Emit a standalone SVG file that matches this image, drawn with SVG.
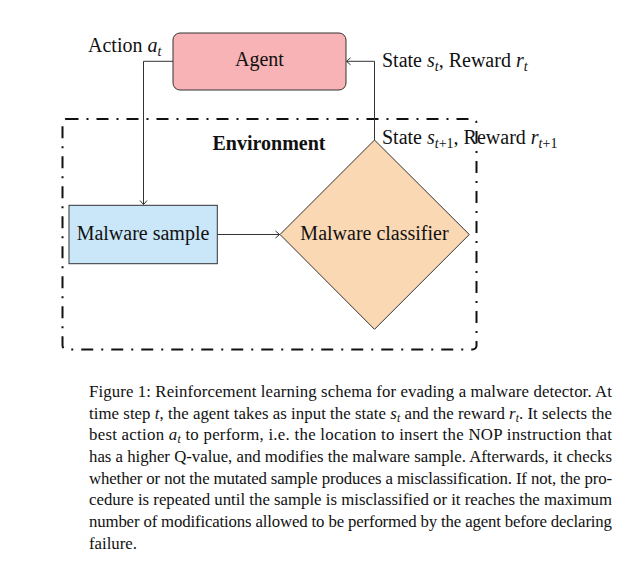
<svg xmlns="http://www.w3.org/2000/svg" width="641" height="564" viewBox="0 0 641 564">
<style>
  text { font-family: "Liberation Serif", "Times New Roman", serif; fill: #111; }
  .lbl { font-size: 20px; }
  .cap { font-size: 16.8px; }
  .it { font-style: italic; }
  .conn { fill: none; stroke: #333; stroke-width: 1; }
  .env { fill: none; stroke: #111; stroke-width: 2; stroke-dasharray: 12 8 2 8; }
  .node { stroke: #333; stroke-width: 1; }
</style>
<defs>
  <marker id="arr" markerUnits="userSpaceOnUse" markerWidth="12" markerHeight="12" viewBox="-6 -6 12 12" refX="0" refY="0" orient="auto">
    <path d="M-4,-3.5 Q-1,-1 0,0 Q-1,1 -4,3.5" fill="none" stroke="#333" stroke-width="1"/>
  </marker>
</defs>
<rect width="641" height="564" fill="#fff"/>

<g id="environment">
  <rect class="env" x="62.5" y="119" width="414" height="230.5" rx="4"/>
  <text class="lbl" x="269" y="149.5" text-anchor="middle" font-weight="bold">Environment</text>
</g>

<g id="agent">
  <rect class="node" x="173" y="33" width="173" height="57" rx="7" fill="#f7b3b5"/>
  <text class="lbl" x="259.5" y="66" text-anchor="middle">Agent</text>
</g>

<g id="malware-sample">
  <rect class="node" x="69" y="205.3" width="148.3" height="58.4" fill="#c9e7f8"/>
  <text class="lbl" x="143" y="240" text-anchor="middle">Malware sample</text>
</g>

<g id="malware-classifier">
  <polygon class="node" points="374.5,140 469.3,234.5 374.5,329.3 280,234.5" fill="#fad8b4"/>
  <text class="lbl" x="374.5" y="240" text-anchor="middle">Malware classifier</text>
</g>

<g id="connectors">
  <path class="conn" d="M173,61.3 H143.5 V204.5" marker-end="url(#arr)"/>
  <path class="conn" d="M217.3,234.5 H279.5" marker-end="url(#arr)"/>
  <path class="conn" d="M374.5,140 V61.3 H346.5" marker-end="url(#arr)"/>
</g>

<g id="labels">
  <text class="lbl" x="88" y="52">Action <tspan class="it">a</tspan><tspan class="it" font-size="14" dy="4">t</tspan></text>
  <text class="lbl" x="382" y="67">State <tspan class="it">s</tspan><tspan class="it" font-size="14" dy="4">t</tspan><tspan dy="-4">, Reward </tspan><tspan class="it">r</tspan><tspan class="it" font-size="14" dy="4">t</tspan></text>
  <text class="lbl" x="382" y="144">State <tspan class="it">s</tspan><tspan class="it" font-size="14" dy="4">t</tspan><tspan font-size="14">+1</tspan><tspan dy="-4">, Reward </tspan><tspan class="it">r</tspan><tspan class="it" font-size="14" dy="4">t</tspan><tspan font-size="14">+1</tspan></text>
</g>

<g id="caption">
  <text class="cap" x="89" y="397" textLength="523" lengthAdjust="spacing">Figure 1: Reinforcement learning schema for evading a malware detector.  At</text>
  <text class="cap" x="89" y="418.7" textLength="523" lengthAdjust="spacing">time step <tspan class="it">t</tspan>, the agent takes as input the state <tspan class="it">s</tspan><tspan class="it" font-size="11.5" dy="3">t</tspan><tspan dy="-3"> and the reward </tspan><tspan class="it">r</tspan><tspan class="it" font-size="11.5" dy="3">t</tspan><tspan dy="-3">. It selects the</tspan></text>
  <text class="cap" x="89" y="440.3" textLength="523" lengthAdjust="spacing">best action <tspan class="it">a</tspan><tspan class="it" font-size="11.5" dy="3">t</tspan><tspan dy="-3"> to perform, i.e.  the location to insert the NOP instruction that</tspan></text>
  <text class="cap" x="89" y="462" textLength="523" lengthAdjust="spacing">has a higher Q-value, and modifies the malware sample.  Afterwards, it checks</text>
  <text class="cap" x="89" y="483.7" textLength="523" lengthAdjust="spacing">whether or not the mutated sample produces a misclassification. If not, the pro-</text>
  <text class="cap" x="89" y="505.3" textLength="523" lengthAdjust="spacing">cedure is repeated until the sample is misclassified or it reaches the maximum</text>
  <text class="cap" x="89" y="527" textLength="523" lengthAdjust="spacing">number of modifications allowed to be performed by the agent before declaring</text>
  <text class="cap" x="89" y="548.7">failure.</text>
</g>
</svg>
